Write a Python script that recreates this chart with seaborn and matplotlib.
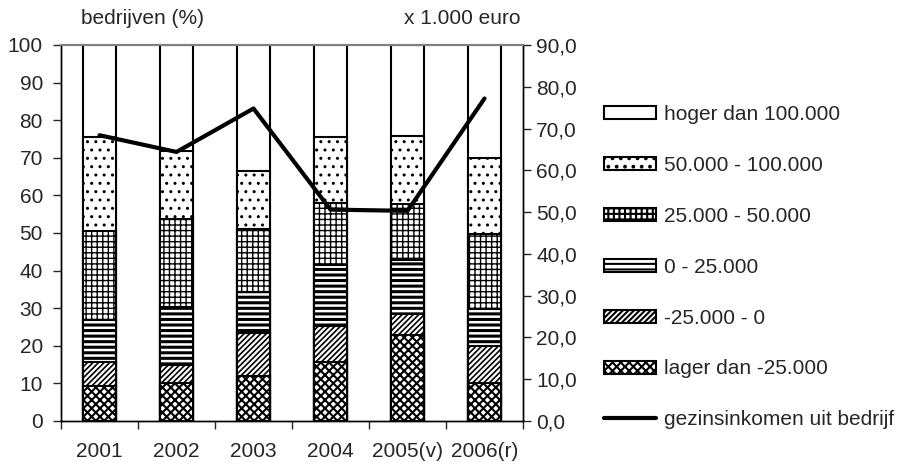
import numpy as np
import pandas as pd
import matplotlib
matplotlib.use("Agg")
import matplotlib.pyplot as plt
import matplotlib.patches as mpatches
import matplotlib.lines as mlines
import seaborn as sns

# Data
years = ["2001", "2002", "2003", "2004", "2005(v)", "2006(r)"]
lager_dan_min25 = [9.3, 10.0, 12.0, 15.8, 22.8, 10.0]
min25_tot_0 = [6.4, 4.8, 11.3, 9.5, 5.6, 10.0]
nul_tot_25 = [11.1, 15.4, 11.1, 16.2, 14.4, 9.8]
van_25_tot_50 = [23.6, 23.6, 16.6, 16.5, 14.8, 20.0]
van_50_tot_100 = [25.2, 18.0, 15.4, 17.6, 18.3, 20.2]
hoger_dan_100 = [24.4, 28.2, 33.6, 24.4, 24.1, 30.0]
gezinsinkomen = [68.4, 64.4, 74.8, 50.6, 50.3, 77.2]

labels = ["lager dan -25.000", "-25.000 - 0", "0 - 25.000",
          "25.000 - 50.000", "50.000 - 100.000", "hoger dan 100.000"]
hatches = ["xxxx", "//////", "---", "+++", "..", ""]
hatch_lw = [1.5, 1.2, 2.2, 1.0, 1.0, 1.0]

df = pd.DataFrame({
    labels[0]: lager_dan_min25,
    labels[1]: min25_tot_0,
    labels[2]: nul_tot_25,
    labels[3]: van_25_tot_50,
    labels[4]: van_50_tot_100,
    labels[5]: hoger_dan_100,
}, index=years)
cum = df.cumsum(axis=1)

sns.set_style("ticks")
plt.rcParams['font.family'] = ['Liberation Sans', 'DejaVu Sans']
plt.rcParams['font.size'] = 15

fig = plt.figure(figsize=(9.01, 4.62), dpi=100)
ax = fig.add_axes([61 / 901, 41 / 462, 462 / 901, 376 / 462])


def set_hatch_lw(patch, lw):
    plt.rcParams['hatch.linewidth'] = lw
    if hasattr(patch, "set_hatch_linewidth"):
        patch.set_hatch_linewidth(lw)


# stacked bars: draw cumulative totals from the top layer down
for lab, h, hl in reversed(list(zip(labels, hatches, hatch_lw))):
    plt.rcParams['hatch.linewidth'] = hl
    n_before = len(ax.patches)
    sns.barplot(x=years, y=cum[lab].values, color="white", edgecolor="black",
                linewidth=1.5, hatch=h, width=0.425, saturation=1, ax=ax)
    for p in ax.patches[n_before:]:
        set_hatch_lw(p, hl)

ax.set_ylim(0, 100)
ax.set_xlim(-0.5, 5.5)
ax.set_yticks(range(0, 101, 10))
ax.set_xticks(np.arange(-0.5, 6, 1), minor=True)
ax.tick_params(axis="x", which="major", length=0, pad=15)
ax.tick_params(axis="x", which="minor", length=6, width=1, direction="out")
ax.tick_params(axis="y", length=6, width=1, direction="out", pad=7)
ax.set_xlabel("")
ax.set_ylabel("")

ax2 = ax.twinx()
sns.lineplot(x=np.arange(len(years)), y=gezinsinkomen, color="black",
             linewidth=3, ax=ax2)
ax2.set_ylim(0, 90)
ax2.set_yticks(range(0, 91, 10))
ax2.set_yticklabels([f"{v:.1f}".replace(".", ",") for v in range(0, 91, 10)])
ax2.tick_params(axis="y", length=6, width=1, direction="out", pad=3.5)
ax2.set_xlim(-0.5, 5.5)

for a in (ax, ax2):
    for s in ["left", "right", "bottom"]:
        a.spines[s].set_color("black")
        a.spines[s].set_linewidth(1)
    a.spines["top"].set_color("#808080")
    a.spines["top"].set_linewidth(1.5)
    a.spines["top"].set_visible(True)
    a.spines["right"].set_visible(True)

fig.text(81 / 901, 1 - 18 / 462, "bedrijven (%)", ha="left", va="center")
fig.text(520 / 901, 1 - 18 / 462, "x 1.000 euro", ha="right", va="center")

handles = []
for l, h, hl in reversed(list(zip(labels, hatches, hatch_lw))):
    plt.rcParams['hatch.linewidth'] = hl
    p = mpatches.Patch(facecolor="white", edgecolor="black", linewidth=1.5,
                       hatch=h, label=l)
    set_hatch_lw(p, hl)
    handles.append(p)
handles.append(mlines.Line2D([], [], color="black", linewidth=3,
                             label="gezinsinkomen uit bedrijf"))
fig.legend(handles=handles, loc="upper left",
           bbox_to_anchor=(604 / 901, 1 - 105 / 462), frameon=False,
           borderpad=0, borderaxespad=0, handlelength=2.5, handleheight=0.58,
           handletextpad=0.38, labelspacing=1.53, fontsize=15)

fig.savefig("out.png", dpi=100)
